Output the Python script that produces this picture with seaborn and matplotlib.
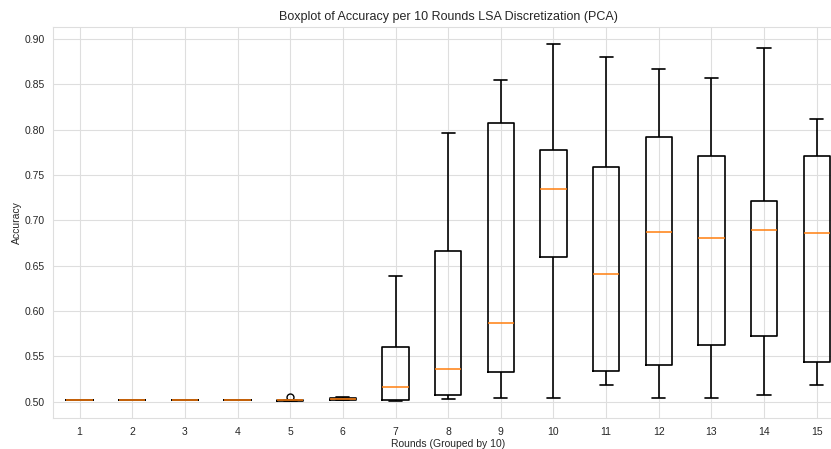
import pandas as pd
import matplotlib
matplotlib.use("Agg")
import matplotlib.pyplot as plt
import seaborn as sns

sns.set_style("whitegrid", {"grid.color": "#dedede", "axes.edgecolor": "#dedede"})
plt.rcParams['font.family'] = ['Liberation Sans', 'DejaVu Sans']

# five-number values read per round group (1..15)
rounds = [str(i) for i in range(1, 16)]
low = [0.5018, 0.5018, 0.5018, 0.5018, 0.5012, 0.5015, 0.5011, 0.5030, 0.5044, 0.5044, 0.5187, 0.5044, 0.5044, 0.5074, 0.5187]
q1 = [0.5018, 0.5018, 0.5018, 0.5018, 0.5012, 0.5020, 0.5022, 0.5074, 0.5328, 0.6600, 0.5342, 0.5401, 0.5622, 0.5725, 0.5435]
med = [0.5018, 0.5018, 0.5018, 0.5018, 0.5015, 0.5030, 0.5165, 0.5357, 0.5868, 0.7342, 0.6405, 0.6875, 0.6802, 0.6894, 0.6857]
q3 = [0.5018, 0.5018, 0.5018, 0.5018, 0.5020, 0.5045, 0.5607, 0.6659, 0.8070, 0.7776, 0.7592, 0.7919, 0.7713, 0.7213, 0.7713]
high = [0.5018, 0.5018, 0.5018, 0.5018, 0.5050, 0.5048, 0.6390, 0.7963, 0.8545, 0.8945, 0.8798, 0.8673, 0.8573, 0.8901, 0.8121]

rows = []
for i, r in enumerate(rounds):
    for v in (low[i], q1[i], med[i], q3[i], high[i]):
        rows.append({"Round": r, "Accuracy": v})
df = pd.DataFrame(rows)

fig = plt.figure(figsize=(8.31, 4.49), dpi=100)
ax = fig.add_axes([53.3 / 831, 30.7 / 449, 789.7 / 831, 391.6 / 449])

sns.boxplot(data=df, x="Round", y="Accuracy", order=rounds, ax=ax,
            fill=False, color="black", linewidth=1.2, width=0.5, whis=1.5,
            medianprops={"color": "#ff7f0e", "linewidth": 1.1},
            flierprops={"marker": "o", "markerfacecolor": "none",
                        "markeredgecolor": "black", "markersize": 5})

ax.set_ylim(0.4817, 0.9136)
ax.set_xlim(-0.5, 14.5)
ax.set_yticks([0.50, 0.55, 0.60, 0.65, 0.70, 0.75, 0.80, 0.85, 0.90])
ax.yaxis.set_major_formatter(matplotlib.ticker.FormatStrFormatter("%.2f"))
ax.xaxis.grid(True)
ax.tick_params(labelsize=7.5, pad=2.5)
ax.set_title("Boxplot of Accuracy per 10 Rounds LSA Discretization (PCA)", fontsize=9, pad=5)
ax.set_xlabel("Rounds (Grouped by 10)", fontsize=7.5, labelpad=2)
ax.set_ylabel("Accuracy", fontsize=7.5, labelpad=2)

fig.savefig("out.png", dpi=100)
